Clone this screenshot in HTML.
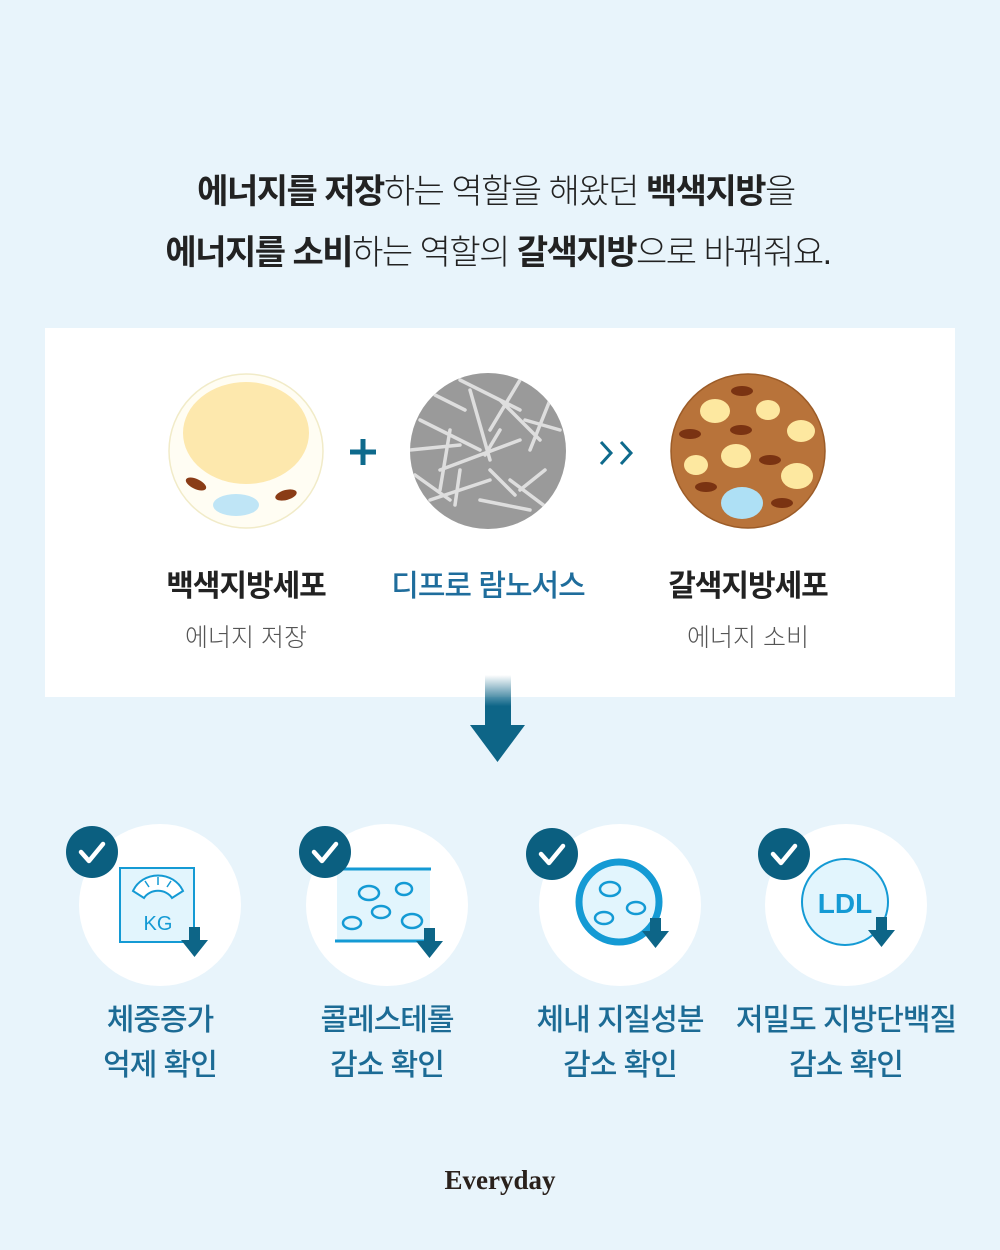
<!DOCTYPE html>
<html><head><meta charset="utf-8"><style>
*{margin:0;padding:0;box-sizing:border-box}
body{width:1000px;height:1250px;background:#e8f4fb;position:relative;overflow:hidden;font-family:"Liberation Sans","Noto Sans CJK KR",sans-serif;color:#222}
.t{position:absolute;left:0;width:1000px;text-align:center;white-space:nowrap}
.h{font-size:34px;font-weight:300;letter-spacing:-1.5px}
.h b{font-weight:700}
.panel{position:absolute;left:45px;top:328px;width:910px;height:369px;background:#fff}
.lab{position:absolute;width:300px;text-align:center;font-size:30px;font-weight:700;letter-spacing:-1px}
.sub{position:absolute;width:300px;text-align:center;font-size:25px;color:#555;font-weight:300}
.bl{position:absolute;width:300px;text-align:center;font-size:30px;font-weight:500;color:#1c6b95;line-height:45px;letter-spacing:-1px}
</style></head><body>
<div class="t h" style="top:164px;left:-4px"><b>에너지를 저장</b>하는 역할을 해왔던 <b>백색지방</b>을</div>
<div class="t h" style="top:225px;left:-2px"><b>에너지를 소비</b>하는 역할의 <b>갈색지방</b>으로 바꿔줘요.</div>
<div class="panel"></div>
<svg style="position:absolute;left:0;top:0" width="1000" height="1250">
<defs><linearGradient id="g" x1="0" y1="0" x2="0" y2="1"><stop offset="0" stop-color="#0d6587" stop-opacity="0"/><stop offset="0.6" stop-color="#0d6587"/></linearGradient>
<clipPath id="mc"><circle cx="488" cy="451" r="78"/></clipPath></defs>
<circle cx="246" cy="451" r="77" fill="#fffdf3" stroke="#f1ebc8" stroke-width="1.5"/>
<ellipse cx="246" cy="433" rx="63" ry="51" fill="#fde8ad"/>
<ellipse cx="236" cy="505" rx="23" ry="11" fill="#bfe5f6"/>
<ellipse cx="196" cy="484" rx="11" ry="5" fill="#8a3c16" transform="rotate(25 196 484)"/>
<ellipse cx="286" cy="495" rx="11" ry="5" fill="#8a3c16" transform="rotate(-15 286 495)"/>
<path d="M350 452h26M363 439v26" stroke="#0e6a8c" stroke-width="5"/>
<circle cx="488" cy="451" r="78" fill="#9a9a9a"/>
<g clip-path="url(#mc)" stroke="#e6e6e6" stroke-width="3.5" stroke-linecap="round" opacity="0.9">
<path d="M420 420l60 30M440 470l80-30M470 390l20 70M500 400l40 40M430 500l60-20M510 480l40 30M450 430l-10 60M520 380l-30 50M410 450l50-5M480 500l50 10M530 450l20-50M460 380l60 30M415 475l35 25M455 505l5-35M525 420l35 10M490 470l25 25M545 470l-25 20M435 395l30 15M500 430l-15 25"/>
</g>
<path d="M601 442l10 11-10 11M621 442l10 11-10 11" fill="none" stroke="#0e6a8c" stroke-width="3"/>
<circle cx="748" cy="451" r="77" fill="#b8733a" stroke="#9c5c28" stroke-width="1.5"/>
<g fill="#fde8a0"><ellipse cx="715" cy="411" rx="15" ry="12"/><ellipse cx="768" cy="410" rx="12" ry="10"/><ellipse cx="801" cy="431" rx="14" ry="11"/><ellipse cx="736" cy="456" rx="15" ry="12"/><ellipse cx="696" cy="465" rx="12" ry="10"/><ellipse cx="797" cy="476" rx="16" ry="13"/></g>
<ellipse cx="742" cy="503" rx="21" ry="16" fill="#aee0f5"/>
<g fill="#7a3312"><ellipse cx="742" cy="391" rx="11" ry="5"/><ellipse cx="690" cy="434" rx="11" ry="5"/><ellipse cx="741" cy="430" rx="11" ry="5"/><ellipse cx="770" cy="460" rx="11" ry="5"/><ellipse cx="706" cy="487" rx="11" ry="5"/><ellipse cx="782" cy="503" rx="11" ry="5"/></g>
<rect x="485" y="675" width="26" height="52" fill="url(#g)"/>
<path d="M470 725h55l-27.5 37z" fill="#0d6587"/>
<g fill="#fff"><circle cx="160" cy="905" r="81"/><circle cx="387" cy="905" r="81"/><circle cx="620" cy="905" r="81"/><circle cx="846" cy="905" r="81"/></g>
<rect x="120" y="868" width="74" height="74" fill="#e2f5fd" stroke="#149ad4" stroke-width="2"/>
<path d="M133 891a27 25 0 0 1 50 0l-11 7a16 14 0 0 0-28 0z" fill="#fff" stroke="#149ad4" stroke-width="2"/>
<path d="M158 877v8M145 881l4 6M171 881l-4 6" stroke="#149ad4" stroke-width="1.5"/>
<text x="158" y="930" text-anchor="middle" font-size="20" fill="#149ad4" font-family="Liberation Sans">KG</text>
<rect x="337" y="869" width="93" height="72" fill="#e2f5fd"/>
<path d="M335 869h96M335 941h96" stroke="#149ad4" stroke-width="3"/>
<g fill="none" stroke="#149ad4" stroke-width="2.5"><ellipse cx="369" cy="893" rx="10" ry="7"/><ellipse cx="404" cy="889" rx="8" ry="6"/><ellipse cx="381" cy="912" rx="9" ry="6"/><ellipse cx="352" cy="923" rx="9" ry="6"/><ellipse cx="412" cy="921" rx="10" ry="7"/></g>
<circle cx="619" cy="902" r="40" fill="#e2f5fd" stroke="#149ad4" stroke-width="7"/>
<g fill="none" stroke="#149ad4" stroke-width="2.5"><ellipse cx="610" cy="889" rx="10" ry="7"/><ellipse cx="636" cy="908" rx="9" ry="6"/><ellipse cx="604" cy="918" rx="9" ry="6"/></g>
<circle cx="845" cy="902" r="43" fill="#e2f5fd" stroke="#149ad4" stroke-width="2"/>
<text x="845" y="913" text-anchor="middle" font-size="28" font-weight="700" fill="#149ad4" font-family="Liberation Sans">LDL</text>
<g fill="#0d6587">
<path d="M189 927h11v13h8l-13.5 17-13.5-17h8z"/>
<path d="M424 928h11v13h8l-13.5 17-13.5-17h8z"/>
<path d="M650 918h11v13h8l-13.5 17-13.5-17h8z"/>
<path d="M876 917h11v13h8l-13.5 17-13.5-17h8z"/>
</g>
<g fill="#0b5f80"><circle cx="92" cy="852" r="26"/><circle cx="325" cy="852" r="26"/><circle cx="552" cy="854" r="26"/><circle cx="784" cy="854" r="26"/></g>
<g fill="none" stroke="#fff" stroke-width="4.5" stroke-linecap="round" stroke-linejoin="round">
<path d="M81 852l8 9 14-17"/><path d="M314 852l8 9 14-17"/><path d="M541 854l8 9 14-17"/><path d="M773 854l8 9 14-17"/>
</g>
</svg>
<div class="lab" style="left:96px;top:561px">백색지방세포</div>
<div class="lab" style="left:338px;top:561px;color:#1f6d9c;font-weight:500">디프로 람노서스</div>
<div class="lab" style="left:598px;top:561px">갈색지방세포</div>
<div class="sub" style="left:96px;top:618px">에너지 저장</div>
<div class="sub" style="left:598px;top:618px">에너지 소비</div>
<div class="bl" style="left:10px;top:998px">체중증가<br>억제 확인</div>
<div class="bl" style="left:237px;top:998px">콜레스테롤<br>감소 확인</div>
<div class="bl" style="left:470px;top:998px">체내 지질성분<br>감소 확인</div>
<div class="bl" style="left:696px;top:998px">저밀도 지방단백질<br>감소 확인</div>
<div class="t" style="top:1165px;font-family:'Liberation Serif',serif;font-weight:700;font-size:27px;color:#2a211c">Everyday</div>
</body></html>
